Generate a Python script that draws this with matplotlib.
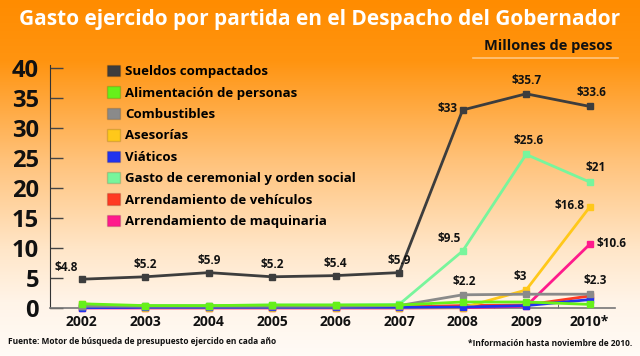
import numpy as np
import matplotlib.pyplot as plt
from matplotlib.colors import LinearSegmentedColormap
from matplotlib.patches import Patch

plt.rcParams['font.family'] = ['Open Sans', 'DejaVu Sans']

years = ["2002", "2003", "2004", "2005", "2006", "2007", "2008", "2009", "2010*"]
series_names = [
    "Sueldos compactados",
    "Alimentación de personas",
    "Combustibles",
    "Asesorías",
    "Viáticos",
    "Gasto de ceremonial y orden social",
    "Arrendamiento de vehículos",
    "Arrendamiento de maquinaria",
]
sueldos = [4.8, 5.2, 5.9, 5.2, 5.4, 5.9, 33, 35.7, 33.6]
alimentacion = [0.7, 0.4, 0.4, 0.5, 0.5, 0.5, 1.0, 1.0, 0.6]
combustibles = [0.3, 0.3, 0.3, 0.3, 0.3, 0.4, 2.2, 2.3, 2.3]
asesorias = [0.7, 0.05, 0.05, 0.05, 0.05, 0.05, 0.05, 3.0, 16.8]
viaticos = [0.05, 0.1, 0.1, 0.1, 0.1, 0.1, 0.15, 0.4, 1.4]
ceremonial = [0.4, 0.4, 0.4, 0.5, 0.5, 0.6, 9.5, 25.6, 21]
vehiculos = [0.1, 0.1, 0.1, 0.1, 0.1, 0.2, 0.4, 0.5, 2.0]
maquinaria = [0.0, 0.0, 0.0, 0.0, 0.0, 0.0, 0.05, 0.3, 10.6]
colors = ["#3d3d3d", "#66f01a", "#8a8a8a", "#ffc81a", "#2233ee", "#78f59c", "#ff3a22", "#ff1a8c"]

# (series index, year index, text, dx pts, dy pts, ha)
labels = [
    (0, 0, "$4.8", -11, 4, "center"),
    (0, 1, "$5.2", 0, 4, "center"),
    (0, 2, "$5.9", 0, 4, "center"),
    (0, 3, "$5.2", 0, 4, "center"),
    (0, 4, "$5.4", 0, 4, "center"),
    (0, 5, "$5.9", 0, 4, "center"),
    (0, 6, "$33", -4, 1, "right"),
    (0, 7, "$35.7", 0, 5, "center"),
    (0, 8, "$33.6", 1, 5, "center"),
    (5, 6, "$9.5", -1, 4, "right"),
    (5, 7, "$25.6", 2, 5, "center"),
    (5, 8, "$21", 4, 6, "center"),
    (3, 8, "$16.8", -4, 1, "right"),
    (7, 8, "$10.6", 5, 1, "left"),
    (2, 6, "$2.2", 1, 5, "center"),
    (3, 7, "$3", -4, 5, "center"),
    (2, 8, "$2.3", 4, 5, "center"),
]

fig = plt.figure(figsize=(6.4, 3.56), dpi=100)

# background gradient
bg = fig.add_axes([0, 0, 1, 1], zorder=-10)
cmap = LinearSegmentedColormap.from_list("bg", [
    (0.0, "#ff8c00"), (0.17, "#ff9410"), (0.45, "#ffc27a"),
    (0.7, "#ffe6c8"), (0.85, "#fff4e8"), (1.0, "#fffbf6")])
bg.imshow(np.linspace(0, 1, 256).reshape(-1, 1), aspect="auto", cmap=cmap,
          extent=[0, 1, 0, 1])
bg.set_axis_off()

ax = fig.add_axes([50 / 640, 1 - 308 / 356, 565 / 640, 243 / 356])
ax.patch.set_alpha(0)

x = np.arange(len(years))
data = [sueldos, alimentacion, combustibles, asesorias, viaticos, ceremonial, vehiculos, maquinaria]
order = [7, 6, 3, 4, 5, 2, 1, 0]
for z, i in enumerate(order):
    ax.plot(x, data[i], color=colors[i], lw=2, marker="s", ms=4.2,
            zorder=3 + z, clip_on=False)

for si, yi, txt, dx, dy, ha in labels:
    ax.annotate(txt, (x[yi], data[si][yi]), xytext=(dx, dy), textcoords="offset points",
                ha=ha, va="bottom" if dy > 3 else "center", fontsize=8.5,
                fontweight="bold", color="#111111", zorder=20)

ax.set_xlim(-0.5, 8.4)
ax.set_ylim(0, 40.5)
ax.set_yticks([0, 5, 10, 15, 20, 25, 30, 35, 40])
ax.set_xticks(x)
ax.set_xticklabels(years)
ax.set_xticks(x[:-1] + 0.5, minor=True)
for s in ["top", "right"]:
    ax.spines[s].set_visible(False)
ax.spines["left"].set_color("#333333")
ax.spines["left"].set_bounds(0, 40.5)
ax.spines["bottom"].set_color("#777777")
ax.spines["bottom"].set_linewidth(1.2)
ax.tick_params(axis="y", direction="in", length=9, width=1, color="#444444",
               labelsize=17, pad=8)
ax.tick_params(axis="x", which="major", length=0, labelsize=10, pad=5)
ax.tick_params(axis="x", which="minor", direction="in", length=3, color="#555555")
for t in ax.get_yticklabels() + ax.get_xticklabels():
    t.set_fontweight("bold")
    t.set_color("#111111")

handles = [Patch(facecolor=c, edgecolor="#00000022", label=n) for c, n in zip(colors, series_names)]
fig.legend(handles=handles, loc="upper left", bbox_to_anchor=(107 / 640, 1 - 65 / 356),
           frameon=False, handlelength=0.95, handleheight=0.95,
           handletextpad=0.45, labelspacing=0.62, borderpad=0, borderaxespad=0,
           prop={"weight": "bold", "size": 9.5})

fig.text(0.5, 1 - 20 / 356, "Gasto ejercido por partida en el Despacho del Gobernador",
         ha="center", va="center", color="white", fontsize=15, fontweight="bold")
fig.text(613 / 640, 1 - 46 / 356, "Millones de pesos", ha="right", va="center",
         color="#111111", fontsize=10.5, fontweight="bold")
fig.add_artist(plt.Line2D([473 / 640, 618 / 640], [1 - 58 / 356] * 2,
                          color="#ffc680", lw=1.2))
fig.text(8 / 640, 1 - 342 / 356, "Fuente: Motor de búsqueda de presupuesto ejercido en cada año",
         ha="left", va="center", fontsize=6, fontweight="bold", color="#111111")
fig.text(632 / 640, 1 - 343 / 356, "*Información hasta noviembre de 2010.",
         ha="right", va="center", fontsize=6, fontweight="bold", color="#111111")

fig.savefig("out.png", dpi=100)
